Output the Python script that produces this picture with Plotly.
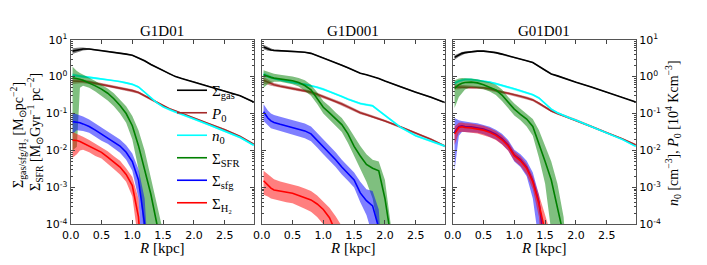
import numpy as np
import plotly.graph_objects as go

# Radius grid [kpc]
R = [0.03, 0.1, 0.15, 0.2, 0.3, 0.4, 0.5, 0.6, 0.7, 0.8, 0.9, 1.0, 1.1, 1.2, 1.3,
     1.4, 1.5, 1.6, 1.7, 1.8, 1.9, 2.0, 2.25, 2.5, 2.75, 2.97]

panel_titles = ["G1D01", "G1D001", "G01D01"]
x_tickvals = [0.0, 0.5, 1.0, 1.5, 2.0, 2.5]
x_ticktext = ["0.0", "0.5", "1.0", "1.5", "2.0", "2.5"]
y_tickvals = [1e-4, 1e-3, 1e-2, 1e-1, 1e0, 1e1]
y_ticktext = ["10<sup>-4</sup>", "10<sup>-3</sup>", "10<sup>-2</sup>",
              "10<sup>-1</sup>", "10<sup>0</sup>", "10<sup>1</sup>"]

# ---- all profile values are log10 of the quantity ----
# Panel 1: G1D01
p1_gas = [0.69, 0.72, 0.74, 0.75, 0.75, 0.73, 0.71, 0.69, 0.67, 0.64, 0.61, 0.58, 0.51, 0.43, 0.33,
          0.25, 0.17, 0.07, 0.00, -0.05, -0.10, -0.14, -0.27, -0.39, -0.52, -0.69]
p1_gas_hw = [0.08, 0.07, 0.05, 0.04, 0.02, 0.02, 0.015, 0.015, 0.015, 0.015, 0.015, 0.015, 0.015,
             0.015, 0.015, 0.015, 0.015, 0.015, 0.015, 0.015, 0.015, 0.015, 0.015, 0.015, 0.015, 0.015]
p1_p0 = [-0.12, -0.12, -0.12, -0.13, -0.15, -0.18, -0.21, -0.24, -0.27, -0.30, -0.34, -0.38, -0.43,
         -0.52, -0.61, -0.70, -0.79, -0.87, -0.93, -0.99, -1.06, -1.12, -1.28, -1.44, -1.62, -1.83]
p1_p0_hw = [0.08, 0.07, 0.06, 0.05, 0.045, 0.04, 0.04, 0.04, 0.04, 0.04, 0.04, 0.04, 0.035, 0.03,
            0.03, 0.03, 0.03, 0.025, 0.025, 0.025, 0.025, 0.025, 0.025, 0.025, 0.025, 0.025]
p1_n0 = [0.04, 0.02, 0.01, 0.00, -0.02, -0.04, -0.06, -0.08, -0.10, -0.13, -0.17, -0.21, -0.28,
         -0.42, -0.58, -0.71, -0.82, -0.90, -0.96, -1.02, -1.09, -1.15, -1.31, -1.47, -1.65, -1.86]
p1_n0_hw = [0.05, 0.04, 0.035, 0.03, 0.03, 0.025, 0.025, 0.025, 0.025, 0.025, 0.025, 0.025, 0.025,
            0.025, 0.025, 0.025, 0.025, 0.025, 0.025, 0.025, 0.025, 0.025, 0.025, 0.025, 0.025, 0.025]
p1_sfr = [-0.03, -0.05, -0.07, -0.10, -0.17, -0.25, -0.34, -0.45, -0.60, -0.78, -1.00, -1.33, -1.87,
          -2.50, -3.18, -4.00, -6.0]
p1_sfr_hi = [0.27, 0.15, 0.10, 0.05, -0.03, -0.12, -0.21, -0.32, -0.45, -0.62, -0.80, -1.07, -1.45,
             -2.00, -2.70, -3.40, -4.20, -6.0]
p1_sfr_lo = [-2.00, -1.90, -0.30, -0.25, -0.30, -0.40, -0.52, -0.65, -0.80, -1.00, -1.25, -1.70,
             -2.50, -4.50, -6.0]
p1_sfg = [-1.22, -1.23, -1.25, -1.28, -1.35, -1.45, -1.56, -1.65, -1.77, -1.88, -2.05, -2.30, -2.80,
          -4.00, -6.0]
p1_sfg_hi = [-0.98, -1.02, -1.05, -1.08, -1.16, -1.27, -1.38, -1.48, -1.60, -1.70, -1.86, -2.08,
             -2.50, -3.30, -6.0]
p1_sfg_lo = [-1.55, -1.45, -1.45, -1.47, -1.52, -1.62, -1.74, -1.82, -1.94, -2.06, -2.25, -2.55,
             -3.30, -6.0]
p1_h2 = [-1.72, -1.73, -1.76, -1.80, -1.88, -1.98, -2.05, -2.18, -2.32, -2.45, -2.65, -2.95, -3.80, -6.0]
p1_h2_hi = [-1.50, -1.55, -1.58, -1.63, -1.72, -1.82, -1.90, -2.02, -2.16, -2.28, -2.48, -2.72,
            -3.30, -6.0]
p1_h2_lo = [-2.20, -2.10, -2.00, -1.98, -2.05, -2.15, -2.22, -2.36, -2.50, -2.65, -2.85, -3.25,
            -4.50, -6.0]

# Panel 2: G1D001
p2_gas = [0.80, 0.75, 0.72, 0.71, 0.70, 0.70, 0.69, 0.68, 0.66, 0.63, 0.57, 0.51, 0.45, 0.38, 0.31,
          0.24, 0.16, 0.09, 0.05, 0.01, -0.05, -0.12, -0.28, -0.42, -0.56, -0.70]
p2_gas_hw = [0.06, 0.05, 0.03, 0.02, 0.02, 0.015, 0.015, 0.015, 0.015, 0.015, 0.015, 0.015, 0.015,
             0.015, 0.015, 0.015, 0.015, 0.015, 0.015, 0.015, 0.015, 0.015, 0.015, 0.015, 0.015, 0.015]
p2_p0 = [-0.10, -0.15, -0.19, -0.22, -0.26, -0.29, -0.32, -0.35, -0.38, -0.42, -0.48, -0.54, -0.60,
         -0.67, -0.74, -0.82, -0.90, -0.98, -1.03, -1.08, -1.14, -1.20, -1.36, -1.53, -1.70, -1.88]
p2_p0_hw = [0.09, 0.07, 0.06, 0.05, 0.045, 0.045, 0.045, 0.045, 0.045, 0.045, 0.045, 0.045, 0.045,
            0.045, 0.045, 0.045, 0.04, 0.04, 0.035, 0.035, 0.035, 0.03, 0.03, 0.03, 0.03, 0.03]
p2_n0 = [0.06, 0.01, -0.02, -0.05, -0.09, -0.13, -0.16, -0.19, -0.21, -0.24, -0.29, -0.34, -0.40,
         -0.47, -0.54, -0.61, -0.67, -0.73, -0.76, -0.79, -0.92, -1.05, -1.37, -1.60, -1.74, -1.88]
p2_n0_hw = [0.06, 0.05, 0.04, 0.035, 0.03, 0.03, 0.03, 0.03, 0.03, 0.03, 0.03, 0.03, 0.03, 0.03,
            0.03, 0.03, 0.03, 0.03, 0.03, 0.03, 0.03, 0.03, 0.03, 0.03, 0.03, 0.03]
p2_sfr = [0.05, 0.00, -0.02, -0.04, -0.06, -0.08, -0.11, -0.16, -0.24, -0.36, -0.58, -0.83, -0.98,
          -1.15, -1.30, -1.55, -1.89, -2.15, -2.38, -2.48, -2.55, -3.30, -6.0]
p2_sfr_hi = [0.17, 0.13, 0.10, 0.08, 0.05, 0.03, 0.00, -0.04, -0.10, -0.22, -0.42, -0.66, -0.80,
             -0.97, -1.12, -1.35, -1.62, -1.88, -2.10, -2.25, -2.30, -2.80, -6.0]
p2_sfr_lo = [-0.30, -0.20, -0.16, -0.14, -0.14, -0.17, -0.21, -0.27, -0.38, -0.52, -0.74, -1.00,
             -1.15, -1.33, -1.50, -1.80, -2.15, -2.50, -2.85, -3.30, -4.20, -6.0]
p2_sfg = [-0.95, -1.12, -1.20, -1.24, -1.29, -1.33, -1.37, -1.42, -1.47, -1.55, -1.72, -1.90, -2.06,
          -2.25, -2.45, -2.62, -2.80, -3.15, -3.36, -3.50, -4.10, -6.0]
p2_sfg_hi = [-0.75, -0.92, -1.00, -1.04, -1.09, -1.13, -1.17, -1.22, -1.27, -1.35, -1.52, -1.70,
             -1.86, -2.05, -2.25, -2.42, -2.60, -2.85, -3.05, -3.10, -3.60, -6.0]
p2_sfg_lo = [-1.20, -1.32, -1.40, -1.44, -1.49, -1.53, -1.57, -1.62, -1.67, -1.75, -1.92, -2.10,
             -2.26, -2.45, -2.65, -2.82, -3.00, -3.40, -3.75, -4.30, -6.0]
p2_h2 = [-2.82, -2.95, -3.02, -3.07, -3.10, -3.13, -3.16, -3.22, -3.28, -3.34, -3.45, -3.60, -3.82,
         -4.20, -6.0]
p2_h2_hi = [-2.55, -2.65, -2.72, -2.78, -2.84, -2.88, -2.92, -2.97, -3.03, -3.10, -3.22, -3.38,
            -3.55, -3.78, -4.05, -6.0]
p2_h2_lo = [-3.20, -3.25, -3.30, -3.33, -3.36, -3.40, -3.43, -3.50, -3.58, -3.66, -3.80, -4.00,
            -4.30, -6.0]

# Panel 3: G01D01
p3_gas = [0.52, 0.59, 0.63, 0.65, 0.68, 0.69, 0.69, 0.68, 0.65, 0.61, 0.57, 0.52, 0.47, 0.43, 0.38,
          0.28, 0.16, 0.07, 0.02, -0.03, -0.08, -0.15, -0.28, -0.42, -0.55, -0.69]
p3_gas_hw = [0.06, 0.05, 0.04, 0.03, 0.02, 0.015, 0.015, 0.015, 0.015, 0.015, 0.015, 0.015, 0.015,
             0.015, 0.015, 0.015, 0.015, 0.015, 0.015, 0.015, 0.015, 0.015, 0.015, 0.015, 0.015, 0.015]
p3_p0 = [-0.28, -0.28, -0.28, -0.28, -0.28, -0.29, -0.30, -0.33, -0.38, -0.42, -0.45, -0.48, -0.53,
         -0.58, -0.63, -0.72, -0.83, -0.93, -1.00, -1.06, -1.12, -1.18, -1.35, -1.52, -1.68, -1.85]
p3_p0_hw = [0.07, 0.06, 0.05, 0.05, 0.045, 0.04, 0.04, 0.04, 0.04, 0.04, 0.04, 0.04, 0.04, 0.04,
            0.035, 0.035, 0.035, 0.03, 0.03, 0.03, 0.03, 0.03, 0.03, 0.03, 0.03, 0.03]
p3_n0 = [-0.18, -0.12, -0.10, -0.08, -0.08, -0.10, -0.12, -0.15, -0.19, -0.23, -0.28, -0.33, -0.38,
         -0.44, -0.49, -0.58, -0.72, -0.88, -0.98, -1.06, -1.12, -1.18, -1.35, -1.52, -1.70, -1.89]
p3_n0_hw = [0.05, 0.04, 0.035, 0.03, 0.03, 0.025, 0.025, 0.025, 0.025, 0.025, 0.025, 0.025, 0.025,
            0.025, 0.025, 0.025, 0.025, 0.025, 0.025, 0.025, 0.025, 0.025, 0.025, 0.025, 0.025, 0.025]
p3_sfr = [-0.32, -0.22, -0.18, -0.16, -0.15, -0.17, -0.22, -0.28, -0.36, -0.50, -0.70, -0.88, -1.02,
          -1.15, -1.35, -1.80, -2.30, -2.80, -3.50, -4.30, -6.0]
p3_sfr_hi = [-0.10, -0.05, -0.04, -0.04, -0.05, -0.07, -0.10, -0.15, -0.22, -0.35, -0.55, -0.73,
             -0.87, -1.00, -1.15, -1.45, -1.85, -2.30, -2.90, -3.80, -6.0]
p3_sfr_lo = [-0.85, -0.55, -0.45, -0.35, -0.28, -0.30, -0.34, -0.40, -0.50, -0.66, -0.85, -1.05,
             -1.18, -1.35, -1.60, -2.20, -2.90, -4.20, -6.0]
p3_sfg = [-1.50, -1.35, -1.33, -1.35, -1.36, -1.38, -1.42, -1.48, -1.56, -1.68, -1.85, -2.12, -2.25,
          -2.45, -2.82, -3.40, -4.50, -6.0]
p3_sfg_hi = [-1.12, -1.18, -1.20, -1.22, -1.24, -1.26, -1.30, -1.36, -1.44, -1.55, -1.72, -1.98,
             -2.10, -2.28, -2.60, -3.20, -4.60, -6.0]
p3_sfg_lo = [-2.55, -1.60, -1.50, -1.50, -1.50, -1.52, -1.56, -1.62, -1.70, -1.83, -2.00, -2.30,
             -2.45, -2.70, -3.30, -4.50, -6.0]
p3_h2 = [-1.55, -1.38, -1.36, -1.38, -1.39, -1.41, -1.45, -1.51, -1.59, -1.71, -1.88, -2.14, -2.28,
         -2.48, -2.85, -3.45, -4.20, -6.0]
p3_h2_hi = [-1.35, -1.25, -1.24, -1.26, -1.27, -1.29, -1.33, -1.39, -1.47, -1.59, -1.76, -2.02,
            -2.16, -2.36, -2.70, -3.20, -3.70, -4.30, -6.0]
p3_h2_lo = [-1.85, -1.52, -1.49, -1.51, -1.52, -1.54, -1.58, -1.64, -1.72, -1.84, -2.01, -2.28,
            -2.42, -2.65, -3.05, -3.80, -6.0]

series_names = ["Σ<sub>gas</sub>", "<i>P</i><sub>0</sub>", "<i>n</i><sub>0</sub>",
                "Σ<sub>SFR</sub>", "Σ<sub>sfg</sub>", "Σ<sub>H₂</sub>"]
series_colors = [(0, 0, 0), (165, 42, 42), (0, 255, 255), (0, 128, 0), (0, 0, 255), (255, 0, 0)]

panels = [
    [(p1_gas, None, None, p1_gas_hw), (p1_p0, None, None, p1_p0_hw), (p1_n0, None, None, p1_n0_hw),
     (p1_sfr, p1_sfr_hi, p1_sfr_lo, None), (p1_sfg, p1_sfg_hi, p1_sfg_lo, None),
     (p1_h2, p1_h2_hi, p1_h2_lo, None)],
    [(p2_gas, None, None, p2_gas_hw), (p2_p0, None, None, p2_p0_hw), (p2_n0, None, None, p2_n0_hw),
     (p2_sfr, p2_sfr_hi, p2_sfr_lo, None), (p2_sfg, p2_sfg_hi, p2_sfg_lo, None),
     (p2_h2, p2_h2_hi, p2_h2_lo, None)],
    [(p3_gas, None, None, p3_gas_hw), (p3_p0, None, None, p3_p0_hw), (p3_n0, None, None, p3_n0_hw),
     (p3_sfr, p3_sfr_hi, p3_sfr_lo, None), (p3_sfg, p3_sfg_hi, p3_sfg_lo, None),
     (p3_h2, p3_h2_hi, p3_h2_lo, None)],
]

W, H = 707, 265
OFF = 8  # default page body margin in the browser


def px(xp):
    return (xp - OFF) / W


def py(yp):
    return 1 - (yp - OFF) / H


x_doms = [(px(70.7), px(254.0)), (px(261.7), px(445.0)), (px(452.7), px(636.0))]
y_dom = (py(224.3), py(39.7))

fig = go.Figure()
for pi, pdata in enumerate(panels):
    xa = "x" if pi == 0 else f"x{pi + 1}"
    ya = "y" if pi == 0 else f"y{pi + 1}"
    for si, (c, hi, lo, hw) in enumerate(pdata):
        col = series_colors[si]
        if hw is not None:
            hi = [a + b for a, b in zip(c, hw)]
            lo = [a - b for a, b in zip(c, hw)]
        bx = R[:len(hi)] + R[:len(lo)][::-1]
        by = 10 ** np.array(hi + lo[::-1])
        fig.add_trace(go.Scatter(
            x=bx, y=by, mode="lines", fill="toself",
            fillcolor=f"rgba({col[0]},{col[1]},{col[2]},0.5)",
            line=dict(width=0), hoverinfo="skip", showlegend=False,
            xaxis=xa, yaxis=ya))
        fig.add_trace(go.Scatter(
            x=R[:len(c)], y=10 ** np.array(c), mode="lines",
            line=dict(color=f"rgb({col[0]},{col[1]},{col[2]})", width=1.6),
            name=series_names[si], showlegend=(pi == 0), xaxis=xa, yaxis=ya))

tick_font = dict(family="DejaVu Sans", size=11, color="black")
for pi in range(3):
    sfx = "" if pi == 0 else str(pi + 1)
    fig.layout["xaxis" + sfx] = dict(
        domain=x_doms[pi], anchor="y" + sfx, range=[0, 2.975],
        tickvals=x_tickvals, ticktext=x_ticktext, ticks="inside", ticklen=4,
        mirror="allticks", showline=True, linecolor="#555555", linewidth=1,
        showgrid=False, zeroline=False, tickfont=tick_font, automargin=False)
    fig.layout["yaxis" + sfx] = dict(
        domain=y_dom, anchor="x" + sfx, type="log", range=[-4, 1],
        tickvals=y_tickvals, ticktext=y_ticktext, ticks="inside", ticklen=4,
        mirror="allticks", showline=True, linecolor="#555555", linewidth=1,
        showgrid=False, zeroline=False, tickfont=tick_font, automargin=False,
        showticklabels=(pi != 1), side=("right" if pi == 2 else "left"),
        minor=dict(ticks="inside", ticklen=2, dtick="D1", showgrid=False))

serif = "Liberation Serif"
ann = []
for pi, t in enumerate(panel_titles):
    xc = (x_doms[pi][0] + x_doms[pi][1]) / 2
    ann.append(dict(text=t, x=xc, y=py(31), xref="paper", yref="paper",
                    xanchor="center", yanchor="middle",
                    showarrow=False, font=dict(family=serif, size=15, color="black")))
    ann.append(dict(text="<i>R</i> [kpc]", x=xc, y=py(248), xref="paper", yref="paper",
                    xanchor="center", yanchor="middle",
                    showarrow=False, font=dict(family=serif, size=15, color="black")))
ann.append(dict(text="Σ<sub>gas/sfg/H₂</sub> [M<sub>⊙</sub>pc<sup>−2</sup>]",
                x=px(18), y=py(135), xref="paper", yref="paper", textangle=-90,
                xanchor="center", yanchor="middle",
                showarrow=False, font=dict(family=serif, size=14, color="black")))
ann.append(dict(text="Σ<sub>SFR</sub> [M<sub>⊙</sub>Gyr<sup>−1</sup> pc<sup>−2</sup>]",
                x=px(35), y=py(132), xref="paper", yref="paper", textangle=-90,
                xanchor="center", yanchor="middle",
                showarrow=False, font=dict(family=serif, size=14, color="black")))
ann.append(dict(text="<i>n</i><sub>0</sub> [cm<sup>−3</sup>], <i>P</i><sub>0</sub> [10<sup>4</sup> Kcm<sup>−3</sup>]",
                x=px(673), y=py(133), xref="paper", yref="paper", textangle=-90,
                xanchor="center", yanchor="middle",
                showarrow=False, font=dict(family=serif, size=14, color="black")))

fig.update_layout(
    width=W, height=H, margin=dict(l=0, r=0, t=0, b=0, autoexpand=False),
    paper_bgcolor="white", plot_bgcolor="white",
    annotations=ann,
    legend=dict(x=px(172), y=py(74), xanchor="left", yanchor="top",
                bgcolor="rgba(0,0,0,0)", borderwidth=0, tracegroupgap=0,
                font=dict(family=serif, size=15, color="black")),
)

fig.write_html("out.html")
